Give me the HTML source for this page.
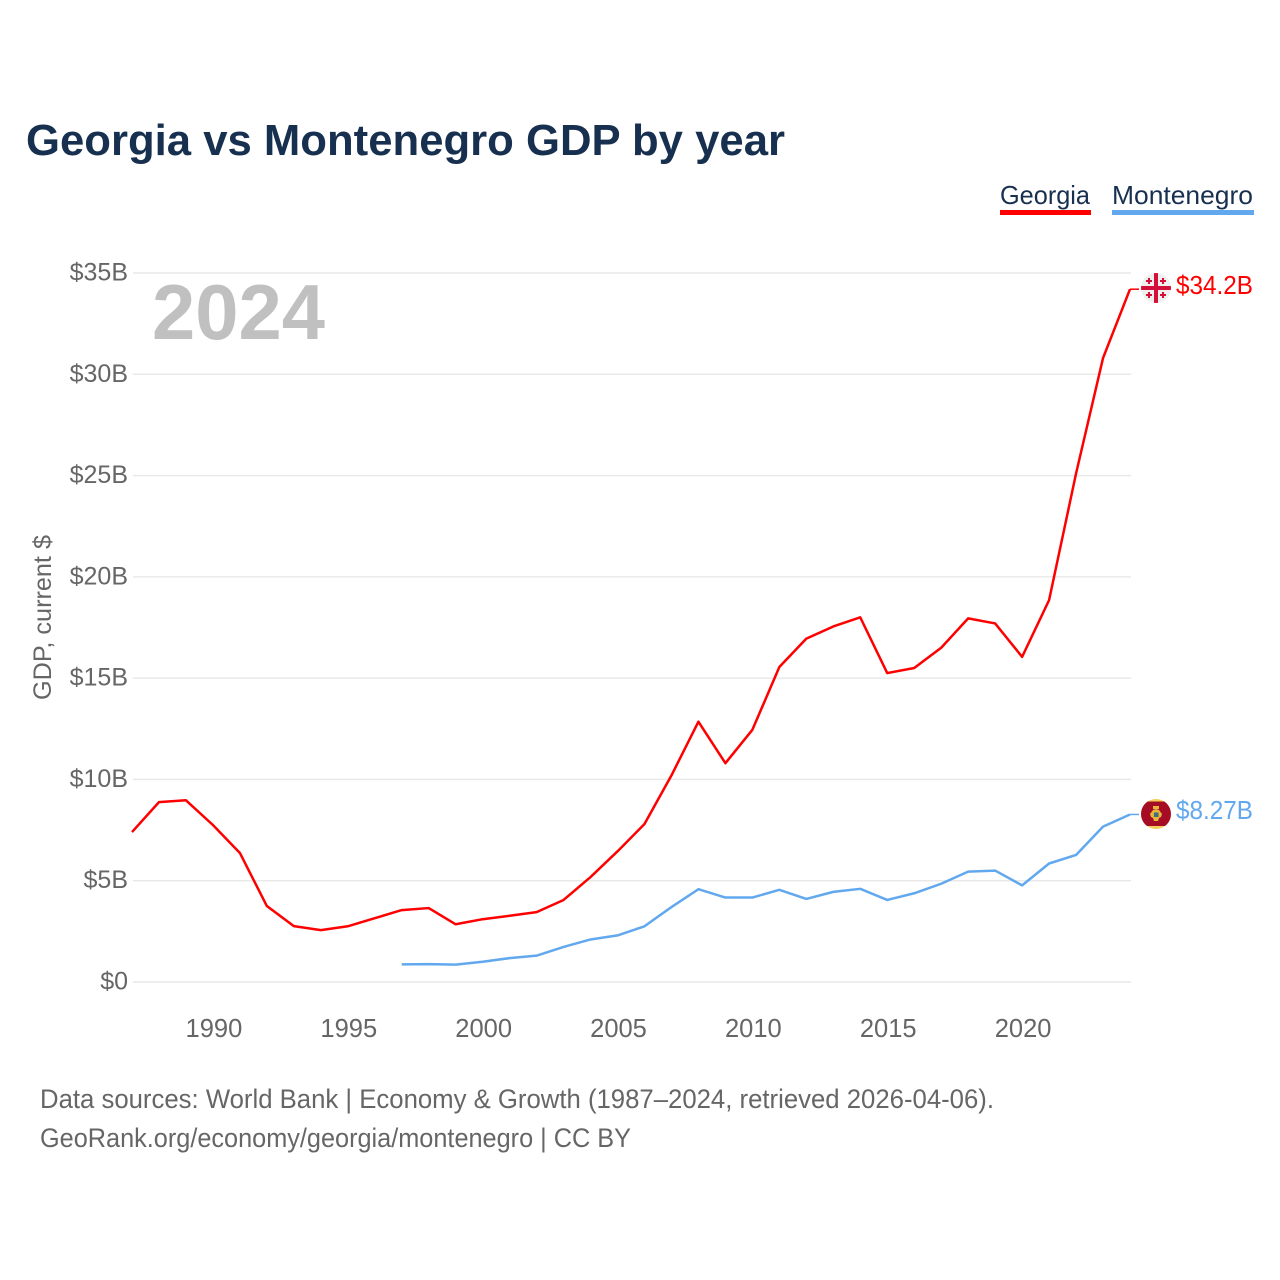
<!DOCTYPE html>
<html lang="en">
<head>
<meta charset="utf-8">
<title>Georgia vs Montenegro GDP by year</title>
<style>
html,body{margin:0;padding:0;background:#fff;width:1280px;height:1280px;overflow:hidden}
svg{display:block}
text{font-family:"Liberation Sans",sans-serif}
</style>
</head>
<body>
<svg id="chart" width="1280" height="1280" viewBox="0 0 1280 1280">
  <text x="26" y="155" font-size="44" font-weight="700" fill="#18304f" textLength="759" lengthAdjust="spacingAndGlyphs">Georgia vs Montenegro GDP by year</text>

  <g>
    <text x="1000" y="204" font-size="26" fill="#18304f" textLength="90" lengthAdjust="spacingAndGlyphs">Georgia</text>
    <rect x="1000" y="210" width="91" height="5" fill="#ff0000"/>
  </g>
  <g>
    <text x="1112" y="204" font-size="26" fill="#18304f" textLength="141" lengthAdjust="spacingAndGlyphs">Montenegro</text>
    <rect x="1112" y="210" width="142" height="5" fill="#62a8ee"/>
  </g>

  <g id="grid"></g>
  <g id="yticks"></g>
  <g id="xticks"></g>

  <text x="152" y="339" font-size="78" font-weight="700" fill="#c0c0c0" textLength="173" lengthAdjust="spacingAndGlyphs">2024</text>

  <text transform="translate(51,700) rotate(-90)" x="0" y="0" font-size="25" fill="#666666" textLength="165" lengthAdjust="spacingAndGlyphs">GDP, current $</text>

  <g id="series"></g>

  <g id="flag-georgia">
    <clipPath id="clip-ge"><circle cx="1156" cy="288" r="15"/></clipPath>
    <g clip-path="url(#clip-ge)">
      <rect x="1141" y="273" width="30" height="30" fill="#efefef"/>
      <rect x="1154" y="273" width="4" height="30" fill="#d2103a"/>
      <rect x="1141" y="286" width="30" height="4" fill="#d2103a"/>
      <path d="M1148 278h2v2h2v2h-2v2h-2v-2h-2v-2h2z M1162 278h2v2h2v2h-2v2h-2v-2h-2v-2h2z M1148 292h2v2h2v2h-2v2h-2v-2h-2v-2h2z M1162 292h2v2h2v2h-2v2h-2v-2h-2v-2h2z" fill="#d2103a"/>
    </g>
  </g>
  <g id="flag-montenegro">
    <clipPath id="clip-me"><circle cx="1156" cy="814" r="15"/></clipPath>
    <g clip-path="url(#clip-me)">
      <rect x="1141" y="799" width="30" height="30" fill="#f5cf5a"/>
      <rect x="1141" y="801.500" width="30" height="24.500" fill="#a50d24"/>
      <rect x="1153" y="806" width="6" height="3" fill="#e8b53c"/>
      <path d="M1156 809l3 1 3 4-1 3-2 1-1 3h-4l-1-3-2-1-1-3 3-4z" fill="#e8b53c"/>
      <rect x="1154" y="812.500" width="4.500" height="4.500" fill="#3f6f7a"/>
    </g>
  </g>

  <text id="label-georgia" x="1176" y="294" font-size="26" fill="#ff0000" textLength="77" lengthAdjust="spacingAndGlyphs">$34.2B</text>
  <text id="label-montenegro" x="1176" y="819" font-size="26" fill="#62a8ee" textLength="77" lengthAdjust="spacingAndGlyphs">$8.27B</text>

  <text x="40" y="1108" font-size="27" fill="#666666" textLength="954" lengthAdjust="spacingAndGlyphs">Data sources: World Bank | Economy &amp; Growth (1987–2024, retrieved 2026-04-06).</text>
  <text x="40" y="1147" font-size="27" fill="#666666" textLength="591" lengthAdjust="spacingAndGlyphs">GeoRank.org/economy/georgia/montenegro | CC BY</text>
</svg>
<script>
const georgiaYears = [1987,1988,1989,1990,1991,1992,1993,1994,1995,1996,1997,1998,1999,2000,2001,2002,2003,2004,2005,2006,2007,2008,2009,2010,2011,2012,2013,2014,2015,2016,2017,2018,2019,2020,2021,2022,2023,2024];
const georgiaValues = [7.4,8.88,8.97,7.75,6.37,3.75,2.76,2.56,2.75,3.15,3.55,3.65,2.85,3.1,3.27,3.45,4.05,5.18,6.45,7.8,10.2,12.85,10.8,12.45,15.55,16.95,17.55,18.0,15.25,15.5,16.5,17.95,17.7,16.05,18.85,25.1,30.8,34.2];
const montenegroYears = [1997,1998,1999,2000,2001,2002,2003,2004,2005,2006,2007,2008,2009,2010,2011,2012,2013,2014,2015,2016,2017,2018,2019,2020,2021,2022,2023,2024];
const montenegroValues = [0.87,0.88,0.86,1.0,1.18,1.3,1.73,2.1,2.3,2.75,3.7,4.58,4.17,4.17,4.55,4.1,4.45,4.6,4.05,4.38,4.85,5.45,5.5,4.77,5.85,6.27,7.67,8.27];
const yTickValues = [0,5,10,15,20,25,30,35];
const yTickLabels = ["$0","$5B","$10B","$15B","$20B","$25B","$30B","$35B"];
const xTickValues = [1990,1995,2000,2005,2010,2015,2020];
const xTickLabels = ["1990","1995","2000","2005","2010","2015","2020"];

const NS = "http://www.w3.org/2000/svg";
const xScale = function (year) { return 132 + (year - 1987) * (1130 - 132) / (2024 - 1987); };
const yScale = function (value) { return 982 - value * (982 - 273) / 35; };

const gridGroup = document.getElementById("grid");
const yTickGroup = document.getElementById("yticks");
const xTickGroup = document.getElementById("xticks");
const seriesGroup = document.getElementById("series");

yTickValues.forEach(function (v, i) {
  const line = document.createElementNS(NS, "line");
  line.setAttribute("x1", xScale(1987) + 1);
  line.setAttribute("x2", xScale(2024) + 1);
  line.setAttribute("y1", yScale(v));
  line.setAttribute("y2", yScale(v));
  line.setAttribute("stroke", "#e9e9e9");
  line.setAttribute("stroke-width", "1.5");
  
  
  gridGroup.appendChild(line);

  const label = document.createElementNS(NS, "text");
  label.setAttribute("x", 128);
  label.setAttribute("y", yScale(v) + 7.5);
  label.setAttribute("text-anchor", "end");
  label.setAttribute("font-size", "25");
  label.setAttribute("fill", "#666666");
  label.textContent = yTickLabels[i];
  
  
  yTickGroup.appendChild(label);
});

xTickValues.forEach(function (v, i) {
  const label = document.createElementNS(NS, "text");
  label.setAttribute("x", xScale(v) + 1);
  label.setAttribute("y", 1037);
  label.setAttribute("text-anchor", "middle");
  label.setAttribute("font-size", "25.500");
  label.setAttribute("fill", "#666666");
  label.textContent = xTickLabels[i];
  
  
  xTickGroup.appendChild(label);
});

function linePath(years, values) {
  return years.map(function (y, i) {
    return (i ? "L" : "M") + xScale(y).toFixed(2) + " " + yScale(values[i]).toFixed(2);
  }).join(" ");
}

const georgiaPath = document.createElementNS(NS, "path");
georgiaPath.setAttribute("d", linePath(georgiaYears, georgiaValues));
georgiaPath.setAttribute("fill", "none");
georgiaPath.setAttribute("stroke", "#ff0000");
georgiaPath.setAttribute("stroke-width", "2.500");
georgiaPath.setAttribute("stroke-linejoin", "round");


seriesGroup.appendChild(georgiaPath);

const montenegroPath = document.createElementNS(NS, "path");
montenegroPath.setAttribute("d", linePath(montenegroYears, montenegroValues));
montenegroPath.setAttribute("fill", "none");
montenegroPath.setAttribute("stroke", "#62a8ee");
montenegroPath.setAttribute("stroke-width", "2.500");
montenegroPath.setAttribute("stroke-linejoin", "round");


seriesGroup.appendChild(montenegroPath);

const georgiaLast = georgiaValues[georgiaValues.length - 1];
const georgiaConnector = document.createElementNS(NS, "line");
georgiaConnector.setAttribute("x1", xScale(2024));
georgiaConnector.setAttribute("x2", xScale(2024) + 9);
georgiaConnector.setAttribute("y1", yScale(georgiaLast));
georgiaConnector.setAttribute("y2", yScale(georgiaLast));
georgiaConnector.setAttribute("stroke", "#ff0000");
georgiaConnector.setAttribute("stroke-width", "1.500");


seriesGroup.appendChild(georgiaConnector);

const montenegroLast = montenegroValues[montenegroValues.length - 1];
const montenegroConnector = document.createElementNS(NS, "line");
montenegroConnector.setAttribute("x1", xScale(2024));
montenegroConnector.setAttribute("x2", xScale(2024) + 9);
montenegroConnector.setAttribute("y1", yScale(montenegroLast));
montenegroConnector.setAttribute("y2", yScale(montenegroLast));
montenegroConnector.setAttribute("stroke", "#62a8ee");
montenegroConnector.setAttribute("stroke-width", "1.500");


seriesGroup.appendChild(montenegroConnector);
</script>
</body>
</html>
